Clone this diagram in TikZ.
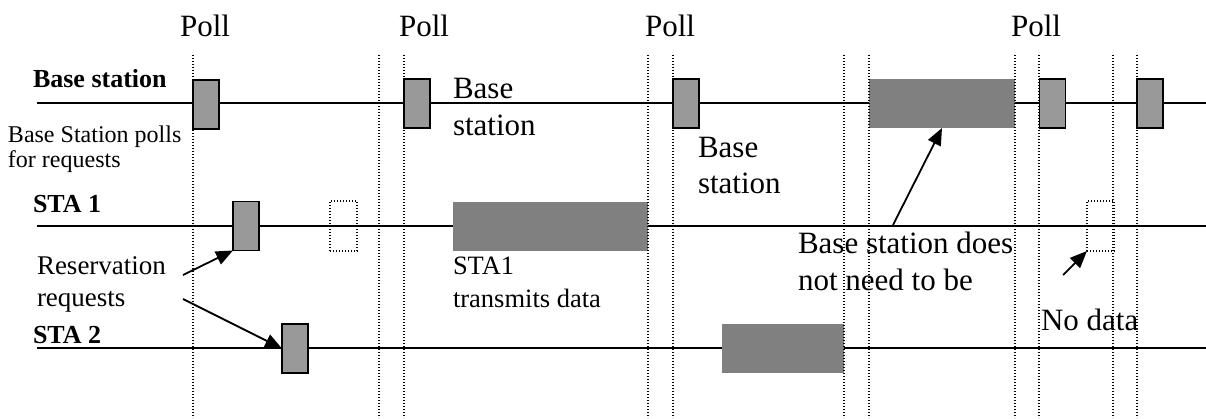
\documentclass[tikz,border=0pt]{standalone}
\usepackage{fontspec}
\setmainfont{Liberation Serif}
\usetikzlibrary{arrows.meta}
\tikzset{
  lbl/.style={anchor=base west, inner sep=0pt, outer sep=0pt, align=left, text=black},
  poll/.style={anchor=base, inner sep=0pt, font=\fontsize{31}{37}\selectfont},
  smallbox/.style={draw=black, line width=1.4pt, fill=black!40, minimum width=26pt, minimum height=49pt, inner sep=0pt, outer sep=0pt},
  bigbox/.style={fill=black!50, draw=none, minimum height=49pt, inner sep=0pt, outer sep=0pt},
  dotbox/.style={draw=black, line width=1.3pt, dash pattern=on 1.3pt off 1.7pt, minimum width=27pt, minimum height=50pt, inner sep=0pt, outer sep=0pt},
  timeline/.style={line width=2pt, black},
  slot/.style={line width=1.3pt, dash pattern=on 1.3pt off 1.7pt, black},
  ptr/.style={line width=1.8pt, -{Triangle[length=17pt,width=14pt]}},
}
\begin{document}
\begin{tikzpicture}[x=1pt,y=-1pt]
\useasboundingbox (0,0) rectangle (1206,418);
% time lines
\coordinate (bsL) at (37,103);  \coordinate (bsR) at (1206,103);
\coordinate (s1L) at (37,226);  \coordinate (s1R) at (1206,226);
\coordinate (s2L) at (37,348);  \coordinate (s2R) at (1206,348);
\draw[timeline] (bsL) -- (bsR);
\draw[timeline] (s1L) -- (s1R);
\draw[timeline] (s2L) -- (s2R);
% boxes
\node[smallbox] (bp1) at (206,104.5) {};
\node[smallbox] (bp2) at (417,103.5) {};
\node[smallbox] (bp3) at (686,103.5) {};
\node[smallbox] (bp4) at (1052.5,103.5) {};
\node[smallbox] (bp5) at (1150,103.5) {};
\node[bigbox, minimum width=146pt] (bbig) at (942,103.5) {};
\node[smallbox] (s1req) at (246,226) {};
\node[dotbox] (s1dot) at (343.5,226) {};
\node[bigbox, minimum width=195pt] (s1data) at (550.5,226.5) {};
\node[dotbox] (s1dot2) at (1100.5,226) {};
\node[smallbox] (s2req) at (295,348.5) {};
\node[bigbox, minimum width=122pt] (s2data) at (783,348.5) {};
% dotted slot boundaries
\foreach \x in {193,379,404,648,673,844,869,1015,1039,1113,1137}{
  \draw[slot] (\x,55) -- (\x,418);
}
% labels (multi-line nodes: base = last line)
\node[poll] (poll1) at (205,36) {Poll};
\node[poll] (poll2) at (424,36) {Poll};
\node[poll] (poll3) at (670,36) {Poll};
\node[poll] (poll4) at (1036,36) {Poll};
\node[lbl, font=\fontsize{26}{30}\selectfont\bfseries] (lbs) at (33,87) {Base station};
\node[lbl, font=\fontsize{26}{30}\selectfont\bfseries] (lsta1) at (33,212) {STA 1};
\node[lbl, font=\fontsize{26}{30}\selectfont\bfseries] (lsta2) at (33,343) {STA 2};
\node[lbl, font=\fontsize{24}{25}\selectfont] (tpolls) at (8,167) {Base Station polls\\for requests};
\node[lbl, font=\fontsize{27}{32}\selectfont] (tres) at (37,306) {Reservation\\requests};
\node[lbl, font=\fontsize{31}{37}\selectfont] (tbs2) at (453,135) {Base\\station};
\node[lbl, font=\fontsize{31}{36}\selectfont] (tbs3) at (698,193) {Base\\station};
\node[lbl, font=\fontsize{26.5}{33}\selectfont] (tsta1) at (453,307) {STA1\\transmits data};
\node[lbl, font=\fontsize{31}{37}\selectfont] (tdoes) at (798,290) {Base station does\\not need to be};
\node[lbl, font=\fontsize{31}{37}\selectfont] (tnod) at (1041,330) {No data};
% pointers
\coordinate (r1) at (183,275);
\coordinate (r2) at (183,299);
\coordinate (d1) at (893,225);
\coordinate (n1) at (1063,275);
\draw[ptr] (r1) -- (s1req.south west);
\draw[ptr] (r2) -- (s2req.west);
\draw[ptr] (d1) -- (bbig.south);
\draw[ptr] (n1) -- (s1dot2.south west);
\end{tikzpicture}
\end{document}
